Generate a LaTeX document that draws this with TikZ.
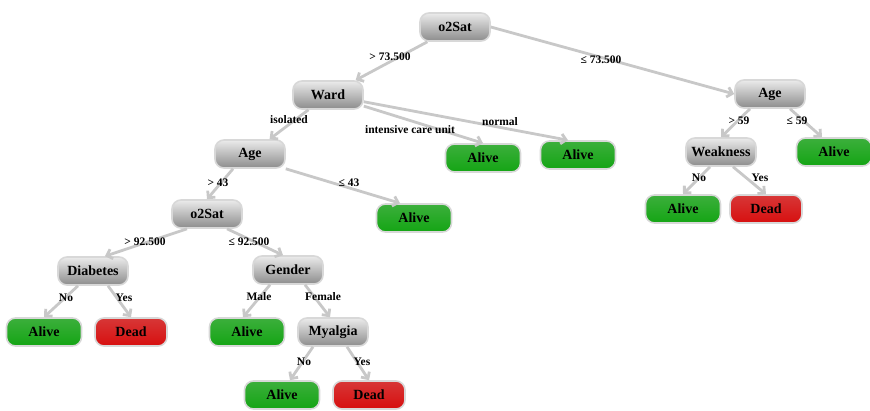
\documentclass[tikz,border=0pt]{standalone}
\usepackage{fontspec}
\setmainfont{Liberation Serif}
\usetikzlibrary{arrows.meta}
\definecolor{edgegray}{RGB}{200,200,200}
\definecolor{rimgray}{RGB}{216,216,216}
\tikzset{
  box/.style={rounded corners=9pt,draw=rimgray,line width=1.6pt,minimum height=28pt,
    inner sep=0pt,font=\fontsize{14}{16}\selectfont\bfseries},
  testbox/.style={box,minimum width=70pt,top color={rgb,255:red,235;green,235;blue,235},
    middle color={rgb,255:red,180;green,180;blue,180},bottom color={rgb,255:red,140;green,140;blue,140}},
  alivebox/.style={box,minimum width=75pt,top color={rgb,255:red,60;green,175;blue,60},
    middle color={rgb,255:red,0;green,115;blue,0},bottom color={rgb,255:red,20;green,165;blue,20}},
  deadbox/.style={box,minimum width=72pt,top color={rgb,255:red,215;green,55;blue,55},
    middle color={rgb,255:red,160;green,0;blue,0},bottom color={rgb,255:red,215;green,15;blue,15}},
  edge/.style={draw=edgegray,line width=2.8pt,-{Straight Barb[length=5pt,width=10pt]}},
  cond/.style={font=\fontsize{11.5}{13}\selectfont\bfseries,inner sep=1pt}
}
\begin{document}
\begin{tikzpicture}[x=1pt,y=-1pt]
\useasboundingbox (0,0) rectangle (870,410);
\node[testbox] (root) at (455,27) {o2Sat};
\node[testbox] (ward) at (328,95) {Ward};
\node[testbox] (ageB) at (770,94) {Age};
\node[testbox] (ageA) at (250,154) {Age};
\node[alivebox] (icu) at (483,158) {Alive};
\node[alivebox] (norm) at (578,155) {Alive};
\node[testbox] (weak) at (721,152) {Weakness};
\node[alivebox] (aliveR) at (834,152) {Alive};
\node[testbox] (o2B) at (207,214) {o2Sat};
\node[alivebox] (alive43) at (414,218) {Alive};
\node[alivebox] (aliveW) at (683,209) {Alive};
\node[deadbox] (deadW) at (766,209) {Dead};
\node[testbox] (diab) at (93,271) {Diabetes};
\node[testbox] (gender) at (288,270) {Gender};
\node[alivebox] (aliveD) at (44,332) {Alive};
\node[deadbox] (deadD) at (131,332) {Dead};
\node[alivebox] (aliveG) at (247,332) {Alive};
\node[testbox] (myal) at (333,332) {Myalgia};
\node[alivebox] (aliveM) at (282,395) {Alive};
\node[deadbox] (deadM) at (369,395) {Dead};
\draw[edge] (root) -- (ward);
\draw[edge] (root.east) -- (ageB.west);
\draw[edge] (ward) -- (ageA);
\draw[edge] (ward) -- (icu.north);
\draw[edge] (ward) -- ([xshift=-10pt]norm.north);
\draw[edge] ([xshift=-20pt]ageB.south) -- (weak.north);
\draw[edge] ([xshift=20pt]ageB.south) -- ([xshift=-12pt]aliveR.north);
\draw[edge] ([xshift=-11pt]weak.south) -- (aliveW.north);
\draw[edge] ([xshift=12pt]weak.south) -- (deadW.north);
\draw[edge] ([xshift=-17pt]ageA.south) -- (o2B.north);
\draw[edge] (ageA.south east) -- ([xshift=-14pt]alive43.north);
\draw[edge] ([xshift=-20pt]o2B.south) -- ([xshift=12pt]diab.north);
\draw[edge] ([xshift=20pt]o2B.south) -- ([xshift=-5pt]gender.north);
\draw[edge] ([xshift=-15pt]diab.south) -- (aliveD.north);
\draw[edge] ([xshift=15pt]diab.south) -- (deadD.north);
\draw[edge] ([xshift=-18pt]gender.south) -- ([xshift=-4pt]aliveG.north);
\draw[edge] ([xshift=17pt]gender.south) -- ([xshift=-3pt]myal.north);
\draw[edge] ([xshift=-20pt]myal.south) -- ([xshift=8pt]aliveM.north);
\draw[edge] ([xshift=14pt]myal.south) -- (deadM.north);
\node[cond] (l1) at (390,57) {> 73.500};
\node[cond] (l2) at (601,60) {≤ 73.500};
\node[cond] (l3) at (289,120) {isolated};
\node[cond] (l4) at (410,130) {intensive care unit};
\node[cond] (l5) at (500,122) {normal};
\node[cond] (l6) at (739,121) {> 59};
\node[cond] (l7) at (797,121) {≤ 59};
\node[cond] (l8) at (699,178) {No};
\node[cond] (l9) at (760,178) {Yes};
\node[cond] (l10) at (218,183) {> 43};
\node[cond] (l11) at (349,183) {≤ 43};
\node[cond] (l12) at (145,242) {> 92.500};
\node[cond] (l13) at (249,242) {≤ 92.500};
\node[cond] (l14) at (66,298) {No};
\node[cond] (l15) at (124,298) {Yes};
\node[cond] (l16) at (259,297) {Male};
\node[cond] (l17) at (323,297) {Female};
\node[cond] (l18) at (304,362) {No};
\node[cond] (l19) at (362,362) {Yes};
\end{tikzpicture}
\end{document}
